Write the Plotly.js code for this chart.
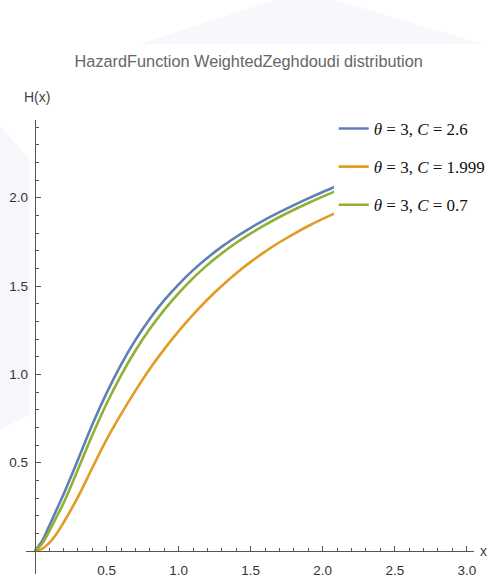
<!DOCTYPE html>
<html>
<head>
<meta charset="utf-8">
<script src="https://cdn.plot.ly/plotly-3.0.1.min.js"></script>
<style>html,body{margin:0;padding:0;background:#fff;}#chart{width:490px;height:584px;}</style>
</head>
<body>
<div id="chart"></div>
<script>
// ---- data ----
const xValues = [0, 0.05, 0.1, 0.15, 0.2, 0.3, 0.4, 0.5, 0.6, 0.7, 0.8, 0.9, 1.0, 1.1, 1.2, 1.3, 1.4, 1.5, 1.6, 1.7, 1.8, 1.9, 2.0, 2.1];
const hC26   = [0, 0.055, 0.14, 0.23, 0.32, 0.515, 0.715, 0.895, 1.055, 1.195, 1.315, 1.42, 1.51, 1.59, 1.66, 1.723, 1.779, 1.83, 1.876, 1.918, 1.958, 1.996, 2.032, 2.066];
const hC1999 = [0, 0.012, 0.045, 0.095, 0.16, 0.305, 0.47, 0.632, 0.775, 0.908, 1.032, 1.143, 1.245, 1.338, 1.424, 1.502, 1.573, 1.637, 1.695, 1.748, 1.796, 1.84, 1.88, 1.917];
const hC07   = [0, 0.04, 0.11, 0.19, 0.27, 0.46, 0.655, 0.835, 0.995, 1.135, 1.258, 1.365, 1.46, 1.545, 1.62, 1.686, 1.745, 1.798, 1.846, 1.891, 1.932, 1.97, 2.006, 2.04];
const seriesNames = ["<i>θ</i> = 3, <i>C</i> = 2.6", "<i>θ</i> = 3, <i>C</i> = 1.999", "<i>θ</i> = 3, <i>C</i> = 0.7"];
const xTickVals = [0.5, 1.0, 1.5, 2.0, 2.5, 3.0];
const xTickText = ["0.5", "1.0", "1.5", "2.0", "2.5", "3.0"];
const yTickVals = [0.5, 1.0, 1.5, 2.0];
const yTickText = ["0.5", "1.0", "1.5", "2.0"];
const xMinorVals = [0.1,0.2,0.3,0.4,0.6,0.7,0.8,0.9,1.1,1.2,1.3,1.4,1.6,1.7,1.8,1.9,2.1,2.2,2.3,2.4,2.6,2.7,2.8,2.9];
const yMinorVals = [0.1,0.2,0.3,0.4,0.6,0.7,0.8,0.9,1.1,1.2,1.3,1.4,1.6,1.7,1.8,1.9,2.1,2.2,2.3,2.4];
const titleText = "HazardFunction WeightedZeghdoudi distribution";

const colors = ["#5E81B5", "#E19C24", "#8FB032"];
const series = [hC26, hC1999, hC07];

const traces = series.map((ys, i) => ({
  x: xValues, y: ys, type: "scatter", mode: "lines",
  name: seriesNames[i], legendgroup: "g" + i,
  line: {color: colors[i], width: 2.6, shape: "spline", smoothing: 1}
}));

const sans = "'Liberation Sans', Arial, sans-serif";
const xr = [-0.06, 3.05], yr = [-0.13, 2.44];
const L = 26.4, W = 447.8, B = 574, H = 454;
const px = p => (p - L) / W, py = p => (B - p) / H;

const layout = {
  width: 490, height: 584,
  margin: {l: L, r: 490 - L - W, t: 120, b: 584 - B, autoexpand: false},
  paper_bgcolor: "#fff", plot_bgcolor: "rgba(0,0,0,0)",
  showlegend: true,
  title: {text: titleText, x: px(249), xref: "paper", xanchor: "center", y: 1 - 61/584, yanchor: "middle",
          font: {family: sans, size: 16.3, color: "#666"}},
  xaxis: {range: xr, anchor: "free", position: 0.13/2.57, showgrid: false, zeroline: false,
          showline: true, linecolor: "#555", linewidth: 1,
          ticks: "inside", ticklen: 5, tickcolor: "#555", tickwidth: 1,
          tickmode: "array", tickvals: xTickVals, ticktext: xTickText,
          ticklabelstandoff: 7,
          minor: {tickmode: "array", tickvals: xMinorVals, ticks: "inside", ticklen: 3, tickcolor: "#555"},
          tickfont: {family: sans, size: 13.5, color: "#333"}, fixedrange: true, automargin: false},
  yaxis: {range: yr, anchor: "free", position: 0.06/3.11, showgrid: false, zeroline: false,
          showline: true, linecolor: "#555", linewidth: 1,
          ticks: "inside", ticklen: 5, tickcolor: "#555", tickwidth: 1,
          tickmode: "array", tickvals: yTickVals, ticktext: yTickText,
          ticklabelstandoff: 4,
          minor: {tickmode: "array", tickvals: yMinorVals, ticks: "inside", ticklen: 3, tickcolor: "#555"},
          tickfont: {family: sans, size: 13.5, color: "#333"}, fixedrange: true, automargin: false},
  legend: {x: px(334), xanchor: "left", y: py(111), yanchor: "top",
           bgcolor: "#fff", borderwidth: 0, tracegroupgap: 13,
           font: {family: "'Liberation Serif', 'Times New Roman', serif", size: 17, color: "#111"}},
  annotations: [
    {text: "H(x)", xref: "paper", yref: "paper", x: px(22), y: py(97),
     xanchor: "left", yanchor: "middle", showarrow: false,
     font: {family: sans, size: 14, color: "#444"}},
    {text: "x", xref: "paper", yref: "paper", x: px(478), y: py(551),
     xanchor: "left", yanchor: "middle", showarrow: false,
     font: {family: sans, size: 14, color: "#444"}}
  ],
  shapes: [
    {type: "path", xref: "paper", yref: "paper", layer: "below",
     path: "M " + px(140) + " " + py(44) + " L " + px(275) + " " + py(0) +
           " L " + px(335) + " " + py(0) + " L " + px(483) + " " + py(44) + " Z",
     fillcolor: "#f8f7fc", line: {width: 0}},
    {type: "path", xref: "paper", yref: "paper", layer: "below",
     path: "M " + px(0) + " " + py(125) + " L " + px(30) + " " + py(160) +
           " L " + px(30) + " " + py(415) + " L " + px(0) + " " + py(430) + " Z",
     fillcolor: "#f7f6fb", line: {width: 0}}
  ]
};

Plotly.newPlot("chart", traces, layout, {displayModeBar: false, staticPlot: true});
</script>
</body>
</html>
